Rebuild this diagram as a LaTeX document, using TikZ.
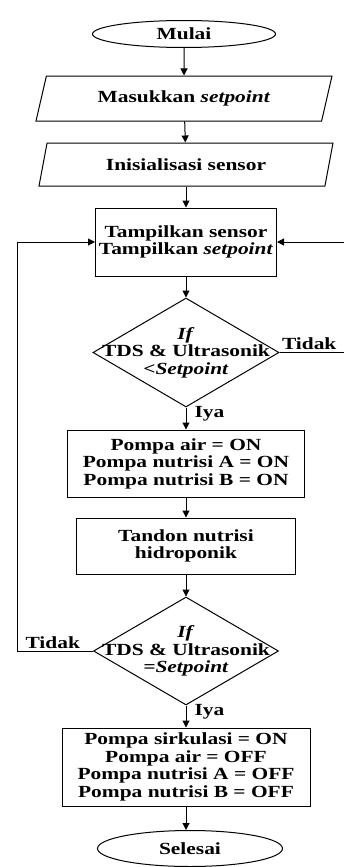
\documentclass[tikz,border=0pt]{standalone}
\usepackage{fontspec}
\setmainfont{Liberation Serif}[FakeStretch=1.26]
\usepackage{tikz}
\usetikzlibrary{arrows.meta}
\usetikzlibrary{shapes,positioning}
\usetikzlibrary{calc}

\begin{document}
\begin{tikzpicture}[x=1pt,y=-1pt,
  every node/.style={font=\bfseries\fontsize{17}{17.5}\selectfont, align=center},
  terminal/.style={draw, ellipse, line width=1pt, inner sep=0pt},
  inout/.style={draw, trapezium, trapezium left angle=56, trapezium right angle=124,
    trapezium stretches body, line width=1pt, inner sep=0pt},
  process/.style={draw, rectangle, line width=1pt, inner sep=0pt},
  decision/.style={draw, diamond, line width=1pt, inner sep=0pt},
  flow/.style={line width=1pt, -{Triangle[length=7pt,width=7pt]}},
  lbl/.style={inner sep=2pt}]
\useasboundingbox (0,0) rectangle (344,867);

\node[terminal, minimum width=183, minimum height=27] (start) at (184,34) {Mulai};
\node[inout, minimum width=296, minimum height=45] (setp) at (184,98.5) {Masukkan \textit{setpoint}};
\node[inout, minimum width=294, minimum height=43] (init) at (186,164.5) {Inisialisasi sensor};
\node[process, minimum width=181, minimum height=68] (show) at (186,242) {Tampilkan sensor\\Tampilkan \textit{setpoint}};
\node[decision, minimum width=186, minimum height=109] (cek1) at (186,352.5)
  {\makebox[0pt]{\textit{If}}\\\makebox[0pt]{TDS \& Ultrasonik}\\\makebox[0pt]{\textit{<Setpoint}}};
\node[process, minimum width=237, minimum height=67] (pumpon) at (186,463.5)
  {Pompa air = ON\\Pompa nutrisi A = ON\\Pompa nutrisi B = ON};
\node[process, minimum width=219, minimum height=56] (tandon) at (186,546) {Tandon nutrisi\\hidroponik};
\node[decision, minimum width=185, minimum height=108] (cek2) at (186,651)
  {\makebox[0pt]{\textit{If}}\\\makebox[0pt]{TDS \& Ultrasonik}\\\makebox[0pt]{\textit{=Setpoint}}};
\node[process, minimum width=248, minimum height=78] (pumpoff) at (186,767)
  {Pompa sirkulasi = ON\\Pompa air = OFF\\Pompa nutrisi A = OFF\\Pompa nutrisi B = OFF};
\node[terminal, minimum width=185, minimum height=36] (stop) at (190,848.5) {Selesai};

\draw[flow] (start) -- (setp);
\draw[flow] (setp) -- (init);
\draw[flow] (init) -- (show);
\draw[flow] (show) -- (cek1);
\draw[flow] (cek1) -- node[lbl, right, pos=0.3, xshift=6pt] {Iya} (pumpon);
\draw[flow] (pumpon) -- (tandon);
\draw[flow] (tandon) -- (cek2);
\draw[flow] (cek2) -- node[lbl, right, pos=0.3, xshift=6pt] {Iya} (pumpoff);
\draw[flow] (pumpoff.south) -- (pumpoff.south |- stop.north);

\draw[flow] (cek1.east) -- node[lbl, pos=0, anchor=south west] {Tidak} ++(66,0) |- (show.east);
\draw[flow] (cek2.west) -- node[lbl, pos=0.53, above] {Tidak} ++(-76,0) |- (show.west);
\end{tikzpicture}
\end{document}
